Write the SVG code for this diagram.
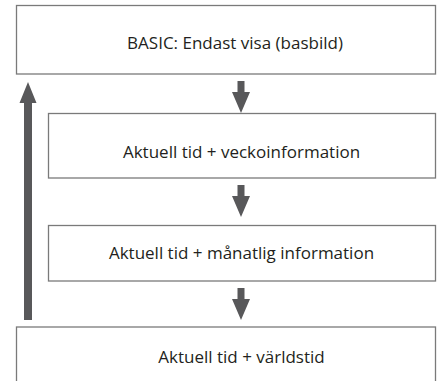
<svg xmlns="http://www.w3.org/2000/svg" width="441" height="381" viewBox="0 0 441 381">
<style>
.box{fill:#fff;stroke:#7a7a7a;stroke-width:1.3}
.lbl{font-family:"Open Sans","Liberation Sans",sans-serif;font-size:17px;fill:#231f20;text-anchor:middle}
.arr{fill:#58585a}
</style>
<rect width="441" height="381" fill="#fff"/>
<g id="n1"><rect class="box" x="16.5" y="5.5" width="419" height="68.5"/><text class="lbl" x="235" y="48.5">BASIC: Endast visa (basbild)</text></g>
<g id="n2"><rect class="box" x="48.5" y="113.5" width="387" height="64.5"/><text class="lbl" x="241.5" y="158">Aktuell tid + veckoinformation</text></g>
<g id="n3"><rect class="box" x="48.5" y="225.5" width="387" height="55.5"/><text class="lbl" x="241.5" y="259">Aktuell tid + månatlig information</text></g>
<g id="n4"><rect class="box" x="16.5" y="327" width="419" height="60"/><text class="lbl" x="241.5" y="363">Aktuell tid + världstid</text></g>
<g id="connectors">
<polygon class="arr" points="237.5,81 244.5,81 244.5,92 250,92 241,113 232,92 237.5,92"/>
<polygon class="arr" points="237.5,185 244.5,185 244.5,196 250,196 241,217 232,196 237.5,196"/>
<polygon class="arr" points="237.5,288 244.5,288 244.5,299 250,299 241,320 232,299 237.5,299"/>
<polygon class="arr" points="24,320 32,320 32,103 36.5,103 28,82 19.5,103 24,103"/>
</g>
</svg>
